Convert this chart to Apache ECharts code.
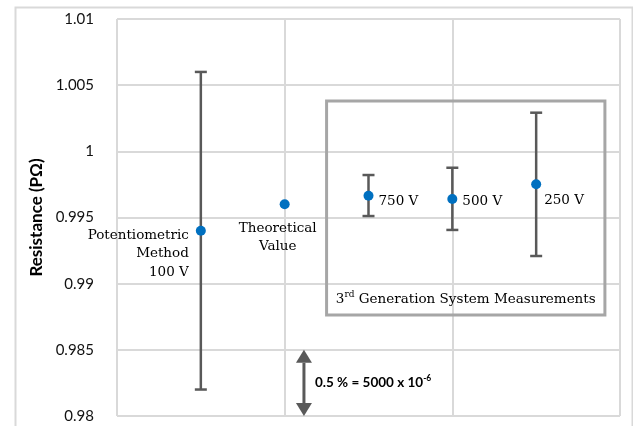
<!DOCTYPE html>
<html>
<head>
<meta charset="utf-8">
<script src="https://cdn.jsdelivr.net/npm/echarts@6/dist/echarts.min.js"></script>
<style>
html,body{margin:0;padding:0;background:#fff;}
#chart{width:633px;height:426px;}
</style>
</head>
<body>
<div id="chart"></div>
<script>
// ---- data ----
const categories = ['Potentiometric\nMethod\n100 V', 'Theoretical\nValue', '750 V', '500 V', '250 V'];
const xPositions = [0.5, 1, 1.5, 2, 2.5];
const values = [0.994, 0.996, 0.99665, 0.9964, 0.99751];
const errLow = [0.982, null, 0.99511, 0.99406, 0.99209];
const errHigh = [1.006, null, 0.99821, 0.99876, 1.00292];
const yTickLabels = ['0.98', '0.985', '0.99', '0.995', '1', '1.005', '1.01'];
const yMin = 0.98, yMax = 1.01, yStep = 0.005;
const xMin = 0, xMax = 3, xStep = 1;
const boxX = [1.25, 2.91];
const boxY = [0.98763, 1.0038];
const boxLabel = '3{sup|rd} Generation System Measurements';
const arrowX = 1.115;
const arrowY = [0.98, 0.985];
const arrowLabel = '0.5 % = 5000 x 10{sup|-6}';

// ---- label layout (styles, not data) ----
const labelLayouts = [
  {position: 'left', distance: 7, offset: [0, 23], align: 'right'},
  {position: 'inside', offset: [-7, 33], align: 'center'},
  {position: 'right', distance: 5, offset: [0, 6], align: 'left'},
  {position: 'right', distance: 5, offset: [0, 3], align: 'left'},
  {position: 'right', distance: 3, offset: [0, 16], align: 'left'}
];

const serif = 'DejaVu Serif';
const sans = 'Lato';

const scatterData = values.map((v, i) => ({
  value: [xPositions[i], v],
  name: categories[i],
  label: Object.assign({
    show: true,
    formatter: categories[i],
    fontFamily: serif,
    fontSize: 13.5,
    lineHeight: 18.5,
    color: '#000'
  }, labelLayouts[i])
}));

const errData = [];
values.forEach((v, i) => {
  if (errLow[i] != null) errData.push([xPositions[i], errLow[i], errHigh[i]]);
});

const chart = echarts.init(document.getElementById('chart'), null, {renderer: 'canvas'});
chart.setOption({
  animation: false,
  backgroundColor: '#fff',
  graphic: [{
    type: 'rect', left: 13, top: 5, silent: true, z: -10,
    shape: {width: 617, height: 440},
    style: {fill: 'none', stroke: '#d9d9d9', lineWidth: 2}
  }],
  grid: {left: 117, top: 19, right: 13, bottom: 10, containLabel: false},
  xAxis: {
    type: 'value', min: xMin, max: xMax, interval: xStep,
    axisLine: {show: false}, axisTick: {show: false}, axisLabel: {show: false},
    splitLine: {show: true, lineStyle: {color: '#d9d9d9', width: 2}}
  },
  yAxis: {
    type: 'value', min: yMin, max: yMax, interval: yStep,
    name: 'Resistance (PΩ)', nameLocation: 'middle', nameGap: 71,
    nameTextStyle: {fontFamily: sans, fontWeight: 'bold', fontSize: 17, color: '#000'},
    axisLine: {show: false}, axisTick: {show: false},
    axisLabel: {
      fontFamily: sans, fontSize: 15, color: '#111', margin: 23,
      formatter: v => yTickLabels[Math.round((v - yMin) / yStep)]
    },
    splitLine: {show: true, lineStyle: {color: '#d9d9d9', width: 2}}
  },
  series: [
    {
      type: 'custom', name: 'box', z: 1, silent: true,
      data: [[boxX[0], boxY[0], boxX[1], boxY[1]]],
      renderItem: (params, api) => {
        const p1 = api.coord([api.value(0), api.value(3)]);
        const p2 = api.coord([api.value(2), api.value(1)]);
        return {
          type: 'group', children: [
            {type: 'rect', shape: {x: p1[0], y: p1[1], width: p2[0] - p1[0], height: p2[1] - p1[1]},
             style: {fill: 'none', stroke: '#a6a6a6', lineWidth: 3}},
            {type: 'text', x: (p1[0] + p2[0]) / 2, y: p2[1] - 16,
             style: {text: boxLabel, align: 'center', verticalAlign: 'middle', fontFamily: serif, fontSize: 13.5, fill: '#000',
               rich: {sup: {fontSize: 9, fontFamily: serif, verticalAlign: 'top', padding: [0, 0, 8, 0], fill: '#000'}}}}
          ]
        };
      }
    },
    {
      type: 'custom', name: 'arrow', z: 1, silent: true,
      data: [[arrowX, arrowY[0], arrowY[1]]],
      renderItem: (params, api) => {
        const pB = api.coord([api.value(0), api.value(1)]);
        const pT = api.coord([api.value(0), api.value(2)]);
        const x = pB[0], hw = 8, hh = 13;
        return {
          type: 'group', children: [
            {type: 'line', shape: {x1: x, y1: pT[1] + hh, x2: x, y2: pB[1] - hh}, style: {stroke: '#595959', lineWidth: 3}},
            {type: 'polygon', shape: {points: [[x, pT[1]], [x - hw, pT[1] + hh], [x + hw, pT[1] + hh]]}, style: {fill: '#595959'}},
            {type: 'polygon', shape: {points: [[x, pB[1]], [x - hw, pB[1] - hh], [x + hw, pB[1] - hh]]}, style: {fill: '#595959'}},
            {type: 'text', x: x + 11, y: (pT[1] + pB[1]) / 2,
             style: {text: arrowLabel, align: 'left', verticalAlign: 'middle', fontFamily: sans, fontWeight: 'bold', fontSize: 13.5, fill: '#000',
               rich: {sup: {fontSize: 8.5, fontFamily: sans, fontWeight: 'bold', verticalAlign: 'top', padding: [0, 0, 9, 0], fill: '#000'}}}}
          ]
        };
      }
    },
    {
      type: 'custom', name: 'error', z: 2, silent: true,
      data: errData,
      renderItem: (params, api) => {
        const x = api.value(0);
        const pLo = api.coord([x, api.value(1)]);
        const pHi = api.coord([x, api.value(2)]);
        const c = 6;
        const st = {stroke: '#595959', lineWidth: 2.5};
        return {
          type: 'group', children: [
            {type: 'line', shape: {x1: pHi[0], y1: pHi[1], x2: pLo[0], y2: pLo[1]}, style: st},
            {type: 'line', shape: {x1: pHi[0] - c, y1: pHi[1], x2: pHi[0] + c, y2: pHi[1]}, style: st},
            {type: 'line', shape: {x1: pLo[0] - c, y1: pLo[1], x2: pLo[0] + c, y2: pLo[1]}, style: st}
          ]
        };
      }
    },
    {
      type: 'scatter', name: 'values', z: 3,
      symbol: 'circle', symbolSize: 10,
      itemStyle: {color: '#0070C0', opacity: 1},
      data: scatterData
    }
  ]
});
</script>
</body>
</html>
